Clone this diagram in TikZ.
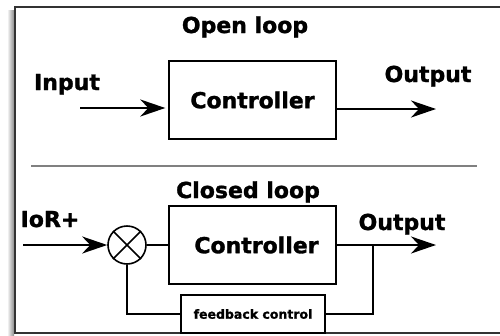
\documentclass[tikz,border=0pt]{standalone}
\usepackage{fontspec}
\setmainfont{DejaVu Sans}[BoldFeatures={FakeBold=1.4}]
\usetikzlibrary{positioning,arrows.meta}

\begin{document}
\begin{tikzpicture}[
	x=1pt,y=-1pt,
	every node/.style={font=\bfseries\fontsize{22}{26}\selectfont},
	block/.style={draw,line width=1.4pt,minimum width=167pt,minimum height=78pt,inner sep=0pt},
	fbbox/.style={draw,line width=1.4pt,minimum width=144pt,minimum height=38pt,inner sep=0pt,
		font=\bfseries\fontsize{12.5}{15}\selectfont},
	title/.style={anchor=base},
	arrow/.style={-{Stealth[length=25pt,width=17pt,inset=8pt]},line width=2.4pt},
	wire/.style={line width=2.4pt}
	]

	\useasboundingbox (0,0) rectangle (500,335);
	\shade[left color=white,right color=black!45] (7,10) rectangle (14,335);
	\draw[line width=2pt,black!80] (15,7) rectangle (505,333);

	\node[title] (open) at (245,33) {Open loop};
	\node[block] (ctrl1) at (252.5,100) {Controller};
	\node[title] (inp) at (67,90) {Input};
	\node[title] (out1) at (428,82) {Output};
	\coordinate (src1) at (80,108);
	\coordinate (dst1) at (436,109);

	\draw[arrow,shorten >=3pt] (src1) -- (src1 -| ctrl1.west);
	\draw[arrow] (ctrl1.east |- dst1) -- (dst1);

	\draw[line width=2.5pt,black!50] (31,166) -- (477,166);

	\node[title] (closed) at (248,198) {Closed loop};
	\node[block] (ctrl2) at (252.5,245) {\hspace*{8pt}Controller};
	\node[title] (ior) at (50,227) {IoR+};
	\node[title] (out2) at (402,230) {Output};
	\node[circle,draw,line width=1.6pt,minimum size=38pt,inner sep=0pt] (sum) at (127,245) {};
	\draw[line width=1.6pt] (sum.north east) -- (sum.south west) (sum.north west) -- (sum.south east);
	\node[fbbox] (fb) at (253,314) {feedback control};
	\coordinate (src2) at (23,245);
	\coordinate (tap) at (373,245);
	\coordinate (dst2) at (436,245);

	\draw[arrow] (src2) -- (sum);
	\draw[wire] (sum) -- (ctrl2);
	\draw[arrow] (ctrl2) -- (dst2);
	\draw[wire] (tap) |- (fb.east);
	\draw[wire] (fb.west) -| (sum.south);

\end{tikzpicture}
\end{document}
